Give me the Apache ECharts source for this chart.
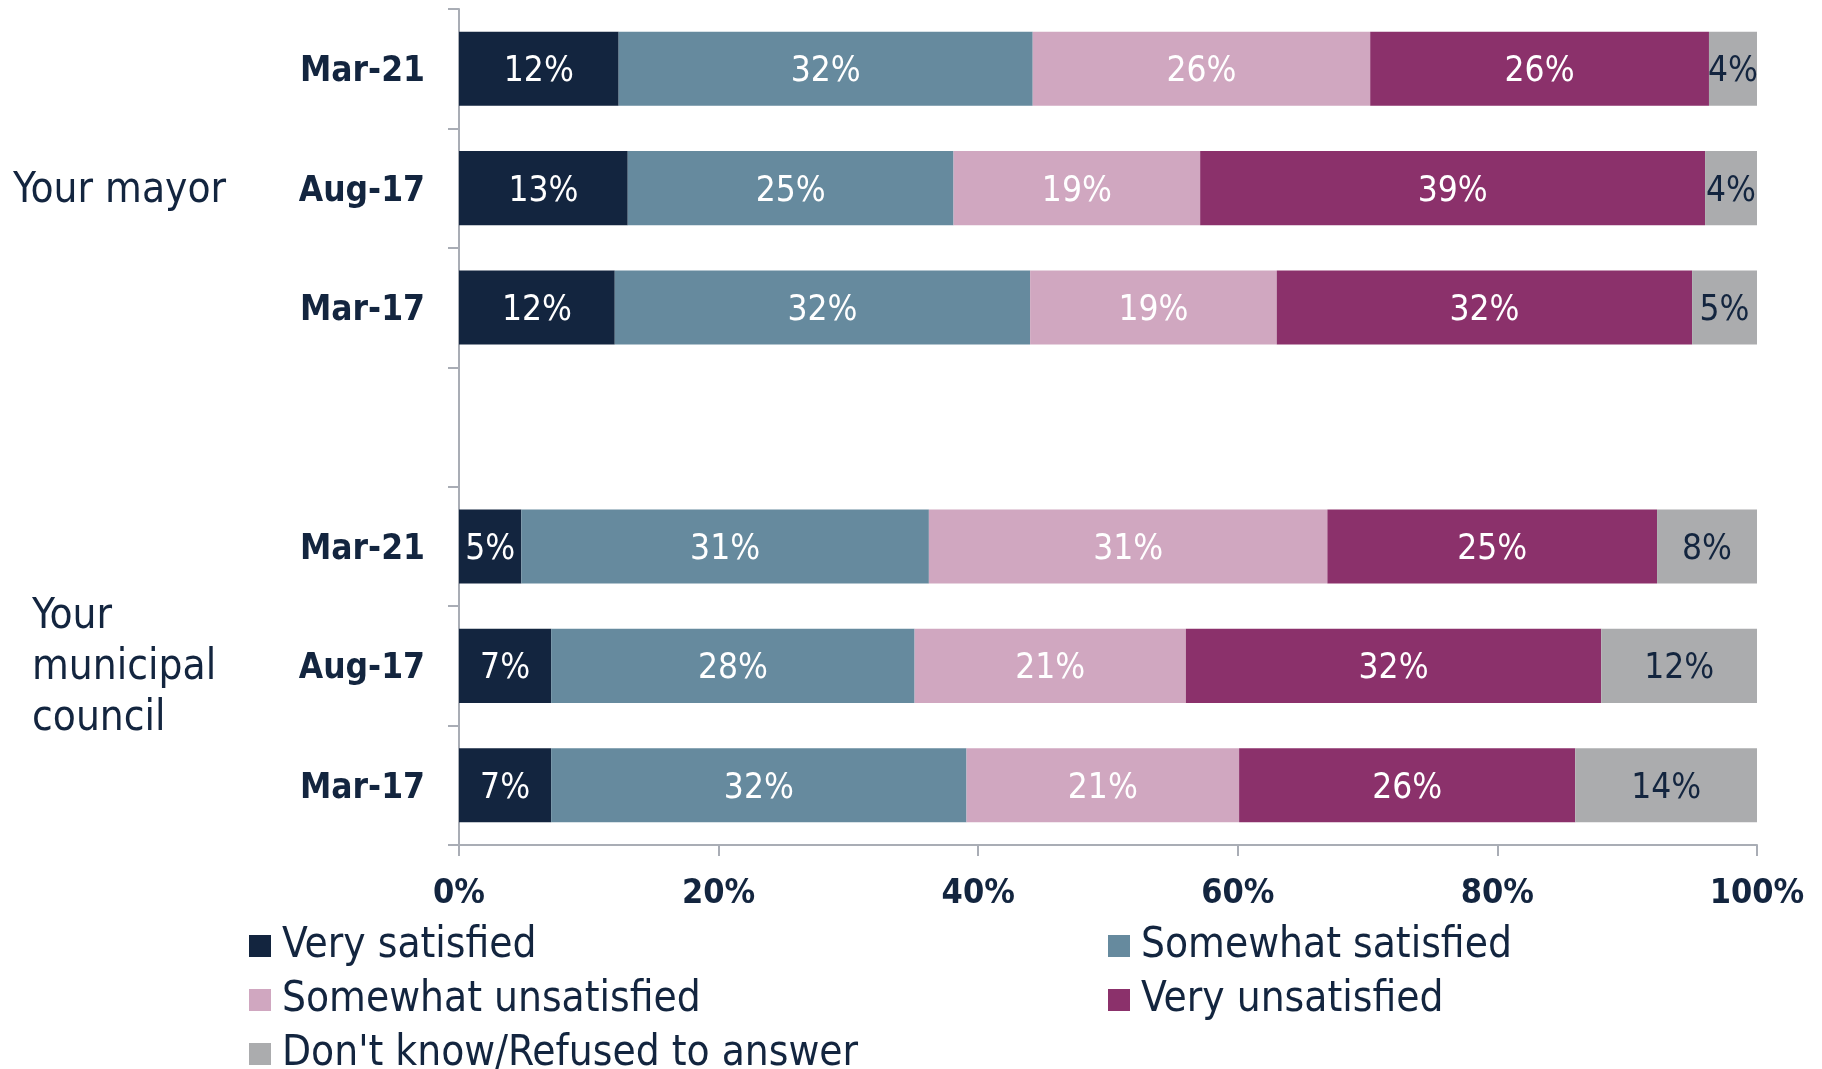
<!DOCTYPE html>
<html>
<head>
<meta charset="utf-8">
<title>Satisfaction with mayor and municipal council</title>
<script src="https://cdn.jsdelivr.net/npm/echarts@6/dist/echarts.min.js"></script>
<style>
  html, body { margin: 0; padding: 0; background: #ffffff; }
  #chart { width: 1822px; height: 1069px; }
</style>
</head>
<body>
<div id="chart"></div>
<script>
// rows from top to bottom, the empty one is the gap between the two groups
const periods = ['Mar-21', 'Aug-17', 'Mar-17', '', 'Mar-21', 'Aug-17', 'Mar-17']
const groupLabels = ['', 'Your mayor', '', '', '', 'Your\nmunicipal\ncouncil', '']

const seriesNames = ['Very satisfied', 'Somewhat satisfied', 'Somewhat unsatisfied', 'Very unsatisfied', "Don't know/Refused to answer"]
const colors = ['#13253f', '#668a9e', '#d0a7c0', '#8b316b', '#abacae']

const verySatisfied = [12.3, 13.0, 12.0, null, 4.8, 7.1, 7.1]
const somewhatSatisfied = [31.9, 25.1, 32.0, null, 31.4, 28.0, 32.0]
const somewhatUnsatisfied = [26.0, 19.0, 19.0, null, 30.7, 20.9, 21.0]
const veryUnsatisfied = [26.1, 38.9, 32.0, null, 25.4, 32.0, 25.9]
const dontKnow = [3.7, 4.0, 5.0, null, 7.7, 12.0, 14.1]

const xTicks = [0, 20, 40, 60, 80, 100]

const navy = '#13253f'
const axisGrey = '#a9adb5'
const fontFam = '"DejaVu Sans Condensed", "DejaVu Sans", sans-serif'

const values = [verySatisfied, somewhatSatisfied, somewhatUnsatisfied, veryUnsatisfied, dontKnow]
const axisKeys = periods.map((p, i) => p + '#' + i)

const chart = echarts.init(document.getElementById('chart'))

const legendText = { fontFamily: fontFam, fontSize: 42, color: navy, lineHeight: 44, padding: [0, 0, 0, 6] }

chart.setOption({
  backgroundColor: '#ffffff',
  animation: false,
  textStyle: { fontFamily: fontFam },
  grid: { left: 459, right: 65, top: 9, bottom: 224, containLabel: false },
  legend: [
    {
      left: 249, top: 924, height: 200, orient: 'vertical', padding: 0,
      itemWidth: 22, itemHeight: 22, itemGap: 10, icon: 'rect',
      data: [seriesNames[0], seriesNames[2], seriesNames[4]],
      textStyle: legendText
    },
    {
      left: 1108, top: 924, height: 200, orient: 'vertical', padding: 0,
      itemWidth: 22, itemHeight: 22, itemGap: 10, icon: 'rect',
      data: [seriesNames[1], seriesNames[3]],
      textStyle: legendText
    }
  ],
  xAxis: {
    type: 'value',
    min: xTicks[0],
    max: xTicks[xTicks.length - 1],
    interval: 20,
    axisLine: { show: true, lineStyle: { color: axisGrey, width: 2 } },
    axisTick: { show: true, length: 11, lineStyle: { color: axisGrey, width: 2 } },
    splitLine: { show: false },
    axisLabel: {
      formatter: '{value}%',
      margin: 32,
      fontFamily: fontFam,
      fontSize: 34,
      fontWeight: 'bold',
      color: navy
    }
  },
  yAxis: [
    {
      type: 'category',
      inverse: true,
      data: axisKeys,
      axisLine: { show: true, lineStyle: { color: axisGrey, width: 2 } },
      axisTick: { show: true, length: 11, lineStyle: { color: axisGrey, width: 2 } },
      axisLabel: {
        formatter: (v, i) => periods[i] ? '{p|' + periods[i] + '}' : '',
        margin: 34,
        rich: {
          p: { fontFamily: fontFam, fontSize: 35, fontWeight: 'bold', color: navy, padding: [7, 0, 0, 0] }
        }
      }
    },
    {
      type: 'category',
      inverse: true,
      position: 'left',
      data: axisKeys,
      axisLine: { show: false },
      axisTick: { show: false },
      axisLabel: {
        align: 'left',
        margin: 446,
        interval: 0,
        formatter: (v, i) => {
          const g = groupLabels[i]
          if (!g) return ''
          const tag = g.indexOf('\n') >= 0 ? 'b' : 'a'
          return g.split('\n').map(line => '{' + tag + '|' + line + '}').join('\n')
        },
        rich: {
          a: { fontFamily: fontFam, fontSize: 42, color: navy, lineHeight: 51, padding: [0, 0, 0, 0] },
          b: { fontFamily: fontFam, fontSize: 42, color: navy, lineHeight: 51, padding: [0, 0, 0, 19] }
        },
        padding: [5, 0, 0, 0]
      }
    }
  ],
  series: seriesNames.map((name, k) => ({
    name: name,
    type: 'bar',
    stack: 'total',
    yAxisIndex: 0,
    barCategoryGap: '38%',
    data: values[k],
    itemStyle: { color: colors[k] },
    label: {
      show: true,
      position: 'inside',
      formatter: p => '{v|' + Math.round(p.value) + '%}',
      rich: {
        v: { fontFamily: fontFam, fontSize: 35, color: k === 4 ? navy : '#ffffff', padding: [7, 0, 0, 0] }
      }
    },
    emphasis: { disabled: true }
  }))
})

window.addEventListener('resize', () => chart.resize())
</script>
</body>
</html>
